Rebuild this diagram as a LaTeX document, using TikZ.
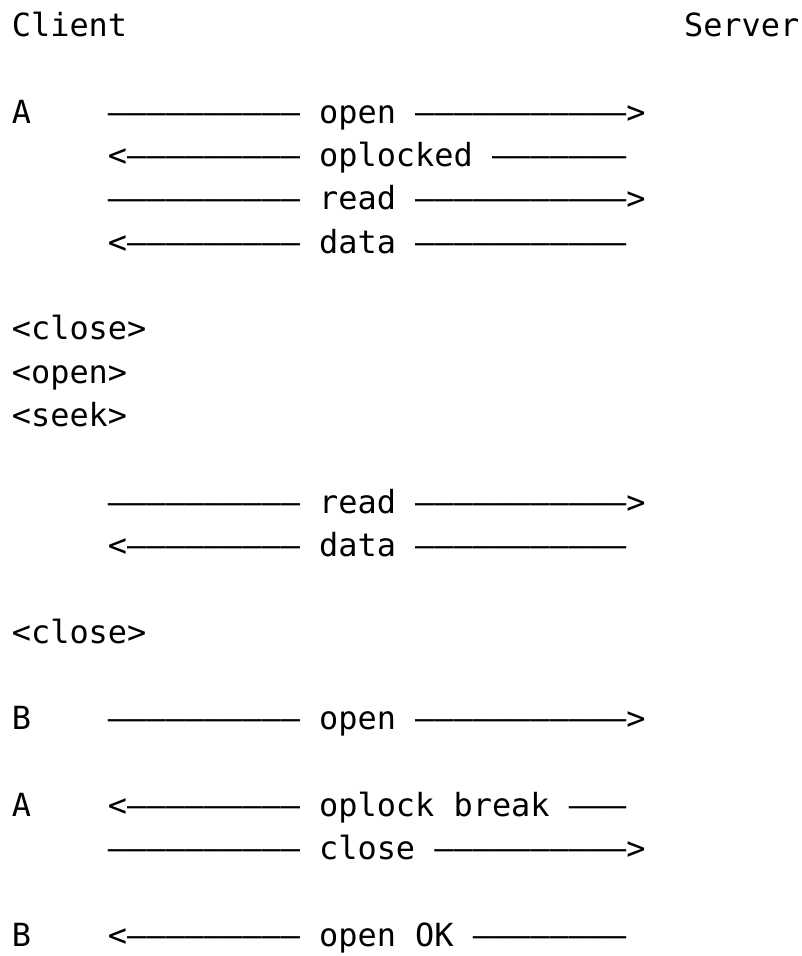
\documentclass[tikz,border=0pt]{standalone}
\usepackage{fontspec}
\setmonofont{DejaVu Sans Mono}
\newcommand\emd[1]{\foreach\i in {1,...,#1}{—}}
\newcommand\putseg[4]{\node[txt] (#1) at ({11.7+#3*19.205},{-(36.3+#2*43.35)}) {#4};}
\begin{document}
\begin{tikzpicture}[x=1pt,y=1pt,
  txt/.style={anchor=base west, inner sep=0pt, text=black,
    font=\ttfamily\fontsize{31.9}{38}\selectfont}]
\useasboundingbox (0,0) rectangle (801,-956);
\fill[white] (0,0) rectangle (801,-956);
\putseg{client}{0}{0}{Client}
\putseg{server}{0}{35}{Server}
\putseg{a1}{2}{0}{A}
\putseg{m1}{2}{5}{\emd{10} open \emd{11}>}
\putseg{m2}{3}{5}{<\emd{9} oplocked \emd{7}}
\putseg{m3}{4}{5}{\emd{10} read \emd{11}>}
\putseg{m4}{5}{5}{<\emd{9} data \emd{11}}
\putseg{c1}{7}{0}{<close>}
\putseg{o1}{8}{0}{<open>}
\putseg{s1}{9}{0}{<seek>}
\putseg{m5}{11}{5}{\emd{10} read \emd{11}>}
\putseg{m6}{12}{5}{<\emd{9} data \emd{11}}
\putseg{c2}{14}{0}{<close>}
\putseg{b1}{16}{0}{B}
\putseg{m7}{16}{5}{\emd{10} open \emd{11}>}
\putseg{a2}{18}{0}{A}
\putseg{m8}{18}{5}{<\emd{9} oplock break \emd{3}}
\putseg{m9}{19}{5}{\emd{10} close \emd{10}>}
\putseg{b2}{21}{0}{B}
\putseg{m10}{21}{5}{<\emd{9} open OK \emd{8}}
\end{tikzpicture}
\end{document}
